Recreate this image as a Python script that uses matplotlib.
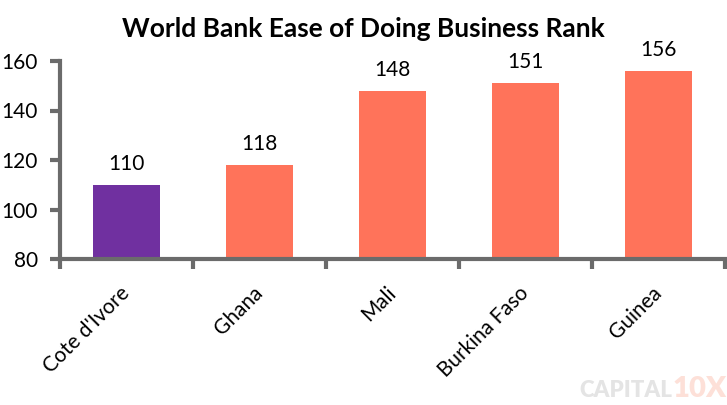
import matplotlib.pyplot as plt

countries = ["Cote d'Ivore", "Ghana", "Mali", "Burkina Faso", "Guinea"]
ranks = [110, 118, 148, 151, 156]
colors = ["#7030A0", "#FF735A", "#FF735A", "#FF735A", "#FF735A"]

plt.rcParams['font.family'] = ['Lato', 'DejaVu Sans']

fig = plt.figure(figsize=(7.27, 4.05), dpi=100)
ax = fig.add_axes([60/727, 1 - 259/405, 665/727, 198/405])

x = range(len(countries))
bars = ax.bar(x, [r - 80 for r in ranks], bottom=80, width=0.5, color=colors)
for i, r in enumerate(ranks):
    ax.text(i, r + 4.5, str(r), ha='center', va='bottom', fontsize=15)

ax.set_ylim(80, 160)
ax.set_xlim(-0.5, len(countries) - 0.5)
ax.set_yticks([80, 100, 120, 140, 160])
ax.set_xticks([i - 0.5 for i in range(len(countries) + 1)])
ax.set_xticklabels([])
ax.set_xticks(list(x), minor=True)
ax.set_xticklabels(countries, minor=True, rotation=45, ha='right', va='center',
                   rotation_mode='anchor', fontsize=15)
ax.tick_params(axis='x', which='minor', length=0, pad=22)
ax.tick_params(axis='both', which='major', length=7, width=3, color='#6b6b6b', labelsize=15)
ax.tick_params(axis='y', pad=9)

for s in ['top', 'right']:
    ax.spines[s].set_visible(False)
for s in ['left', 'bottom']:
    ax.spines[s].set_color('#6b6b6b')
    ax.spines[s].set_linewidth(3)

fig.text(0.5, 1 - 37/405, "World Bank Ease of Doing Business Rank", ha='center',
         va='baseline', fontsize=19, fontweight='bold')
fig.text(672/727, 0.02, "CAPITAL", ha='right', va='baseline', fontsize=16,
         fontweight='heavy', color='#e4e4e4')
fig.text(672/727, 0.02, "10X", ha='left', va='baseline', fontsize=21,
         fontweight='heavy', color='#fde0d8')

fig.savefig("out.png", dpi=100)
